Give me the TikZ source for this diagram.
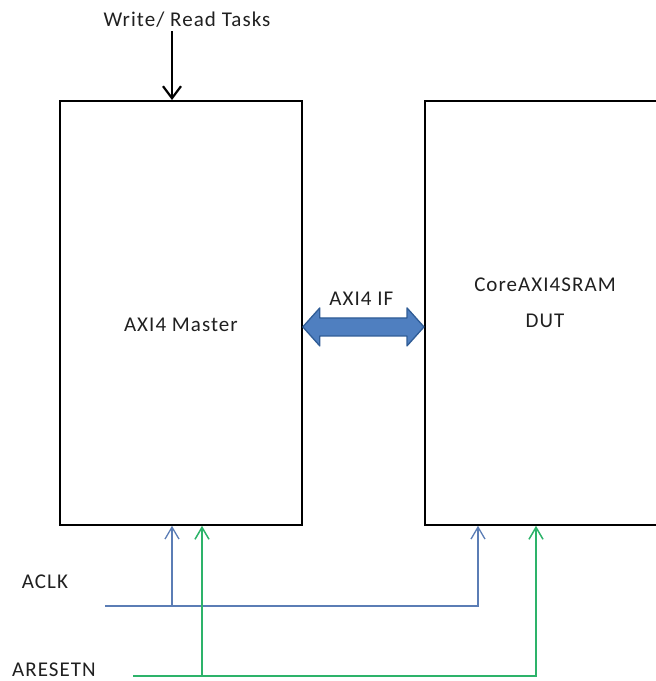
\documentclass[tikz,border=0pt]{standalone}
\usepackage{fontspec}
\setmainfont[LetterSpace=5]{Carlito}
\usetikzlibrary{arrows.meta,calc}
\definecolor{clkc}{HTML}{5B7DB5}
\definecolor{rstc}{HTML}{2DB36A}
\definecolor{ifblue}{HTML}{4F7FC0}
\definecolor{ifedge}{HTML}{2F5C96}
\definecolor{txtc}{HTML}{202020}
\begin{document}
\begin{tikzpicture}[x=1pt,y=-1pt,
  every node/.style={font=\fontsize{21}{24}\selectfont, text=txtc},
  block/.style={draw=black, line width=1.8pt, minimum width=242pt, minimum height=424pt, inner sep=0pt, anchor=north west},
  clkline/.style={draw=clkc, line width=1.3pt},
  rstline/.style={draw=rstc, line width=1.5pt},
  sigtip/.style={-{Straight Barb[length=12pt,width=14pt]}}]
\useasboundingbox (0,0) rectangle (656,681);
\clip (0,0) rectangle (656,681);
% blocks
\node[block] (master) at (59,100) {};
\node[block, minimum width=320pt] (dut) at (424,100) {};
\node (mlabel) at ($(master.center)+(0,12)$) {AXI4 Master};
\node[align=center, inner sep=0pt] (dlabel) at (545,303) {CoreAXI4SRAM\\[12pt]DUT};
% interface arrow
\coordinate (ifl) at ($(master.east)+(0,14)$);
\coordinate (ifr) at ($(dut.west)+(0,14)$);
\draw[draw=ifedge, fill=ifblue, line width=1.3pt, line join=round]
  (ifl) -- ($(ifl)+(17,-19)$) -- ($(ifl)+(17,-9)$) -- ($(ifr)+(-17,-9)$) -- ($(ifr)+(-17,-19)$)
  -- (ifr) -- ($(ifr)+(-17,19)$) -- ($(ifr)+(-17,9)$) -- ($(ifl)+(17,9)$) -- ($(ifl)+(17,19)$) -- cycle;
\node (iflabel) at ($(ifl)!0.5!(ifr)+(-2,-28)$) {AXI4 IF};
% tasks
\node (task) at (187,20) {Write/ Read Tasks};
\coordinate (tin) at ($(master.north west)+(113,0)$);
\draw[line width=2.2pt, -{Straight Barb[length=12pt,width=18pt]}] (task.south -| tin) -- (tin);
% signals
\node (aclk) at (45,582) {ACLK};
\node (arst) at (54,670) {ARESETN};
\coordinate (clkstart) at (105,606);
\coordinate (rststart) at (133,676);
\coordinate (mclk) at ($(master.south west)+(113,0)$);
\coordinate (mrst) at ($(master.south west)+(143,0)$);
\coordinate (dclk) at ($(dut.south west)+(54,0)$);
\coordinate (drst) at ($(dut.south west)+(112,0)$);
\draw[clkline, sigtip] (clkstart) -| (dclk);
\draw[clkline, sigtip] (clkstart -| mclk) -- (mclk);
\draw[rstline, sigtip] (rststart) -| (drst);
\draw[rstline, sigtip] (rststart -| mrst) -- (mrst);
\end{tikzpicture}
\end{document}
